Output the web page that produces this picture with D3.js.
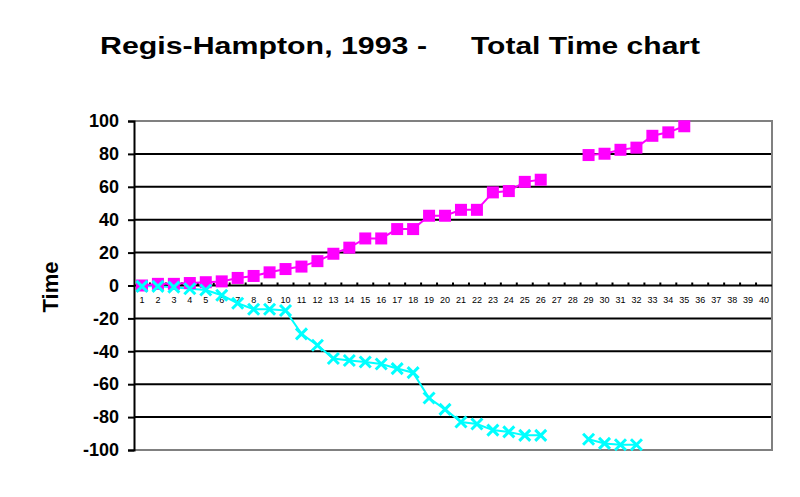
<!DOCTYPE html>
<html>
<head>
<meta charset="utf-8">
<script src="https://cdn.jsdelivr.net/npm/d3@7"></script>
<style>
  body { margin: 0; background: #fff; }
  svg { display: block; }
</style>
</head>
<body>
<svg id="chart" width="800" height="497"></svg>
<script>
const categories = d3.range(1, 41).map(String);
const totalTime = [0, 1, 1, 1.5, 2, 2.5, 4.6, 5.8, 8, 10, 11.5, 14.8, 19.3, 23, 28.6, 28.6, 34.3, 34.3, 42.4, 42.4,
  46, 46, 56.6, 57.4, 63, 64.3, null, null, 79.3, 80.1, 82.5, 83.8, 91, 93.1, 96.8];
const otherTime = [-0.5, -0.5, -1, -2, -2.7, -5.9, -10.8, -14.4, -14.4, -15.2, -29.4, -36.3, -44.4, -45.6, -46.5, -47.7, -50.5, -53, -68.4, -75.3,
  -83, -84.2, -87.9, -89, -91.1, -91.1, null, null, -93.5, -96, -96.8, -96.8];
const yTicks = [100, 80, 60, 40, 20, 0, -20, -40, -60, -80, -100];

const svg = d3.select("#chart");
const font = "Arial, 'Liberation Sans', Helvetica, sans-serif";
const width = 800, height = 497;
const margin = { top: 121, right: 28, bottom: 47, left: 134 };

const x = d3.scaleBand()
  .domain(categories)
  .range([margin.left, width - margin.right])
  .paddingInner(0).paddingOuter(0);
const bw = x.bandwidth();
const cx = i => x(categories[i]) + bw / 2;

const y = d3.scaleLinear()
  .domain([-100, 100])
  .range([height - margin.bottom, margin.top]);

// gridlines
svg.append("g")
  .selectAll("line")
  .data(yTicks.filter(d => d !== 100 && d !== -100 && d !== 0))
  .join("line")
  .attr("x1", margin.left).attr("x2", width - margin.right)
  .attr("y1", d => y(d)).attr("y2", d => y(d))
  .attr("stroke", "#000").attr("stroke-width", 2);

// plot border (top, right, bottom)
svg.append("path")
  .attr("d", `M${margin.left},${y(100)}H${width - margin.right}V${y(-100)}H${margin.left}`)
  .attr("fill", "none")
  .attr("stroke", "#808080")
  .attr("stroke-width", 2);

// y axis
const yAxis = svg.append("g")
  .attr("transform", `translate(${margin.left},0)`)
  .call(d3.axisLeft(y).tickValues(yTicks).tickSize(6).tickPadding(9).tickFormat(d => String(d)));
yAxis.select(".domain").attr("stroke", "#000").attr("stroke-width", 2);
yAxis.selectAll(".tick line").attr("stroke", "#000").attr("stroke-width", 2);
yAxis.selectAll("text")
  .attr("font-size", "18px")
  .attr("font-weight", "bold")
  .attr("font-family", font)
  .attr("fill", "#000");

// x axis on the zero line
const zeroY = y(0);
svg.append("line")
  .attr("x1", margin.left).attr("x2", width - margin.right)
  .attr("y1", zeroY).attr("y2", zeroY)
  .attr("stroke", "#000").attr("stroke-width", 2);

svg.append("g")
  .selectAll("line")
  .data(categories.slice(1))
  .join("line")
  .attr("x1", d => x(d)).attr("x2", d => x(d))
  .attr("y1", zeroY - 3).attr("y2", zeroY)
  .attr("stroke", "#000").attr("stroke-width", 2);

const xAxis = svg.append("g")
  .attr("transform", `translate(0,${zeroY})`)
  .call(d3.axisBottom(x).tickSize(0).tickPadding(11));
xAxis.select(".domain").remove();
xAxis.selectAll("text")
  .attr("font-size", "9px")
  .attr("font-family", font)
  .attr("fill", "#000");

// series
const line = d3.line()
  .defined(d => d != null)
  .x((d, i) => cx(i))
  .y(d => y(d));

svg.append("path")
  .datum(otherTime)
  .attr("fill", "none")
  .attr("stroke", "#00FFFF")
  .attr("stroke-width", 2)
  .attr("d", line);

svg.append("path")
  .datum(totalTime)
  .attr("fill", "none")
  .attr("stroke", "#FF00FF")
  .attr("stroke-width", 2)
  .attr("d", line);

const sq = 12;
svg.append("g")
  .selectAll("rect")
  .data(totalTime.map((v, i) => ({ v, i })).filter(d => d.v != null))
  .join("rect")
  .attr("x", d => cx(d.i) - sq / 2)
  .attr("y", d => y(d.v) - sq / 2)
  .attr("width", sq).attr("height", sq)
  .attr("fill", "#FF00FF");

const xs = 5.5;
svg.append("g")
  .selectAll("path")
  .data(otherTime.map((v, i) => ({ v, i })).filter(d => d.v != null))
  .join("path")
  .attr("d", d => {
    const px = cx(d.i), py = y(d.v);
    return `M${px - xs},${py - xs}L${px + xs},${py + xs}M${px - xs},${py + xs}L${px + xs},${py - xs}`;
  })
  .attr("stroke", "#00FFFF")
  .attr("stroke-width", 3)
  .attr("fill", "none");

// title
svg.append("text")
  .attr("x", 100).attr("y", 54)
  .attr("font-size", "24px").attr("font-weight", "bold").attr("font-family", font)
  .attr("textLength", 327).attr("lengthAdjust", "spacingAndGlyphs")
  .text("Regis-Hampton, 1993 -");
svg.append("text")
  .attr("x", 471).attr("y", 54)
  .attr("font-size", "24px").attr("font-weight", "bold").attr("font-family", font)
  .attr("textLength", 229).attr("lengthAdjust", "spacingAndGlyphs")
  .text("Total Time chart");

// y label
svg.append("text")
  .attr("transform", `translate(58,287) rotate(-90)`)
  .attr("text-anchor", "middle")
  .attr("font-size", "22px").attr("font-weight", "bold").attr("font-family", font)
  .text("Time");
</script>
</body>
</html>
